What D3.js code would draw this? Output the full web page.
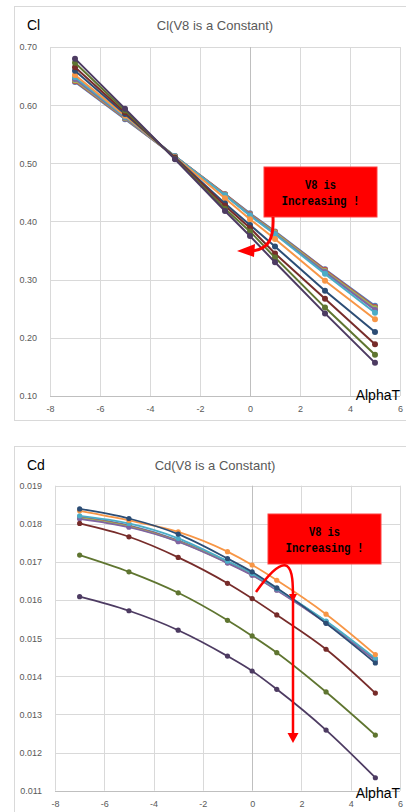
<!DOCTYPE html>
<html>
<head>
<meta charset="utf-8">
<script src="https://cdn.jsdelivr.net/npm/d3@7"></script>
<style>
  html, body { margin: 0; padding: 0; background: #fff; }
  svg { display: block; font-family: "Liberation Sans", Arial, sans-serif; }
</style>
</head>
<body>
<svg id="chart" width="406" height="812"></svg>
<script>
// AlphaT sample points shared by both charts
const alphaT = [-7, -5, -3, -1, 0, 1, 3, 5];

// one row per V8 setting (V8 grows from first row to last)
const clValues = [
  [0.640, 0.576, 0.512, 0.447, 0.414, 0.383, 0.318, 0.255],
  [0.641, 0.577, 0.512, 0.447, 0.413, 0.382, 0.317, 0.253],
  [0.643, 0.578, 0.512, 0.446, 0.412, 0.381, 0.315, 0.251],
  [0.645, 0.579, 0.512, 0.445, 0.411, 0.379, 0.313, 0.248],
  [0.648, 0.580, 0.512, 0.445, 0.410, 0.378, 0.310, 0.243],
  [0.652, 0.582, 0.511, 0.440, 0.404, 0.370, 0.298, 0.232],
  [0.659, 0.585, 0.510, 0.431, 0.394, 0.357, 0.281, 0.210],
  [0.665, 0.588, 0.509, 0.427, 0.389, 0.345, 0.267, 0.189],
  [0.673, 0.591, 0.508, 0.422, 0.383, 0.338, 0.252, 0.171],
  [0.680, 0.594, 0.507, 0.418, 0.375, 0.330, 0.242, 0.157]
];

const cdValues = [
  [0.01818, 0.01796, 0.01757, 0.01701, 0.01668, 0.01629, 0.01543, 0.01445],
  [0.01816, 0.01794, 0.01755, 0.01699, 0.01667, 0.01628, 0.01542, 0.01444],
  [0.01815, 0.01793, 0.01754, 0.01698, 0.01666, 0.01627, 0.01541, 0.01443],
  [0.01813, 0.01791, 0.01753, 0.01697, 0.01665, 0.01626, 0.01540, 0.01442],
  [0.01821, 0.01801, 0.01762, 0.01702, 0.01670, 0.01630, 0.01545, 0.01447],
  [0.01834, 0.01809, 0.01779, 0.01727, 0.01692, 0.01652, 0.01563, 0.01457],
  [0.01839, 0.01814, 0.01773, 0.01709, 0.01674, 0.01632, 0.01539, 0.01435],
  [0.01801, 0.01766, 0.01712, 0.01644, 0.01604, 0.01561, 0.01471, 0.01356],
  [0.01718, 0.01674, 0.01619, 0.01547, 0.01506, 0.01462, 0.01359, 0.01246],
  [0.01609, 0.01572, 0.01521, 0.01453, 0.01414, 0.01366, 0.01259, 0.01134]
];

const seriesColors = ["#4F81BD", "#C0504D", "#9BBB59", "#8064A2", "#4BACC6",
                      "#F79646", "#2C4D75", "#772C2A", "#5F7530", "#4D3B62"];

const xTicks = [-8, -6, -4, -2, 0, 2, 4, 6];
const clTicks = [0.10, 0.20, 0.30, 0.40, 0.50, 0.60, 0.70];
const cdTicks = [0.011, 0.012, 0.013, 0.014, 0.015, 0.016, 0.017, 0.018, 0.019];

const svg = d3.select("#chart");
const grid = "#d9d9d9";
const tickGrey = "#595959";

function drawChart(cfg) {
  const g = svg.append("g");

  // chart frame
  g.append("rect")
    .attr("x", 14.5).attr("y", cfg.top + 0.5)
    .attr("width", 400).attr("height", cfg.frameH)
    .attr("fill", "#fff").attr("stroke", grid);

  const x = d3.scaleLinear().domain([-8, 6]).range([cfg.left, 400]);
  const y = d3.scaleLinear().domain(cfg.yDomain).range([cfg.bottom, cfg.plotTop]);

  // gridlines
  g.append("g").selectAll("line").data(cfg.yTicks).join("line")
    .attr("x1", cfg.left).attr("x2", 400)
    .attr("y1", d => Math.round(y(d)) + 0.5).attr("y2", d => Math.round(y(d)) + 0.5)
    .attr("stroke", (d, i) => i === 0 ? "#bfbfbf" : grid);
  g.append("g").selectAll("line").data(xTicks).join("line")
    .attr("x1", d => Math.round(x(d)) + 0.5).attr("x2", d => Math.round(x(d)) + 0.5)
    .attr("y1", cfg.plotTop).attr("y2", cfg.bottom)
    .attr("stroke", d => d === 0 ? "#bfbfbf" : grid);

  // axes (labels only, Excel style)
  const yAxis = g.append("g")
    .attr("transform", `translate(${cfg.left - 10},0)`)
    .call(d3.axisLeft(y).tickValues(cfg.yTicks).tickFormat(d3.format(cfg.fmt)).tickSize(0));
  yAxis.select(".domain").remove();
  yAxis.selectAll("text").attr("fill", tickGrey).style("font-size", "9px");

  const xAxis = g.append("g")
    .attr("transform", `translate(0,${cfg.bottom + 7})`)
    .call(d3.axisBottom(x).tickValues(xTicks).tickFormat(d => String(d)).tickSize(0));
  xAxis.select(".domain").remove();
  xAxis.selectAll("text").attr("fill", tickGrey).style("font-size", "9px");

  // titles
  g.append("text").attr("x", 27).attr("y", cfg.top + 24)
    .attr("fill", "#000").style("font-size", "14px").text(cfg.yLabel);
  g.append("text").attr("x", 215).attr("y", cfg.top + 24)
    .attr("text-anchor", "middle").attr("fill", tickGrey)
    .style("font-size", "13px").text(cfg.title);
  g.append("text").attr("x", 400).attr("y", cfg.axisLabelY)
    .attr("text-anchor", "end").attr("fill", "#000")
    .style("font-size", "14px").text("AlphaT");

  // series
  const line = d3.line()
    .x((d, i) => x(alphaT[i]))
    .y(d => y(d))
    .curve(cfg.curve);

  const series = g.append("g").selectAll("g").data(cfg.values).join("g");
  series.append("path")
    .attr("d", line)
    .attr("fill", "none")
    .attr("stroke", (d, i) => seriesColors[i])
    .attr("stroke-width", cfg.lineW);
  series.selectAll("circle").data((d, i) => d.map(v => ({ v, i }))).join("circle")
    .attr("cx", (d, j) => x(alphaT[j]))
    .attr("cy", d => y(d.v))
    .attr("r", cfg.r)
    .attr("fill", d => seriesColors[d.i]);

  return g;
}

function noteBox(g, bx, by) {
  g.append("rect").attr("x", bx).attr("y", by)
    .attr("width", 113).attr("height", 50)
    .attr("fill", "#ff0000").attr("stroke", "#ff4040");
  const t = g.append("g")
    .attr("font-family", "'Liberation Mono', 'DejaVu Sans Mono', monospace")
    .attr("font-weight", "bold").attr("font-size", "13px")
    .attr("text-anchor", "middle").attr("fill", "#000");
  t.append("text").attr("x", bx + 56.5).attr("y", by + 22)
    .attr("textLength", 31).attr("lengthAdjust", "spacingAndGlyphs").text("V8 is");
  t.append("text").attr("x", bx + 56.5).attr("y", by + 38)
    .attr("textLength", 78).attr("lengthAdjust", "spacingAndGlyphs").text("Increasing !");
}

// ---- Cl chart
const g1 = drawChart({
  top: 6, frameH: 414, left: 50, plotTop: 47, bottom: 396,
  yDomain: [0.10, 0.70], yTicks: clTicks, fmt: ".2f",
  yLabel: "Cl", title: "Cl(V8 is a Constant)", axisLabelY: 400,
  values: clValues, curve: d3.curveLinear, lineW: 2, r: 3
});
noteBox(g1, 264, 167);
g1.append("path")
  .attr("d", "M273,217 C274,240 268,249 252,251")
  .attr("fill", "none").attr("stroke", "#ff0000").attr("stroke-width", 3);
g1.append("path")
  .attr("d", "M237,251 L255,244 L254,257 Z")
  .attr("fill", "#ff0000");

// ---- Cd chart
const g2 = drawChart({
  top: 446, frameH: 380, left: 55, plotTop: 485.7, bottom: 790.7,
  yDomain: [0.011, 0.019], yTicks: cdTicks, fmt: ".3f",
  yLabel: "Cd", title: "Cd(V8 is a Constant)", axisLabelY: 798,
  values: cdValues, curve: d3.curveMonotoneX, lineW: 1.75, r: 2.6
});
noteBox(g2, 268, 514);
g2.append("path")
  .attr("d", "M256,592 C268,575 280,562 287,566 C293,570 293,585 293,600 L293,734")
  .attr("fill", "none").attr("stroke", "#ff0000").attr("stroke-width", 2.5);
g2.append("path")
  .attr("d", "M289,594 L297,594 L293,602 Z")
  .attr("fill", "#ff0000");
g2.append("path")
  .attr("d", "M287.5,733 L298.5,733 L293,743 Z")
  .attr("fill", "#ff0000");
</script>
</body>
</html>
